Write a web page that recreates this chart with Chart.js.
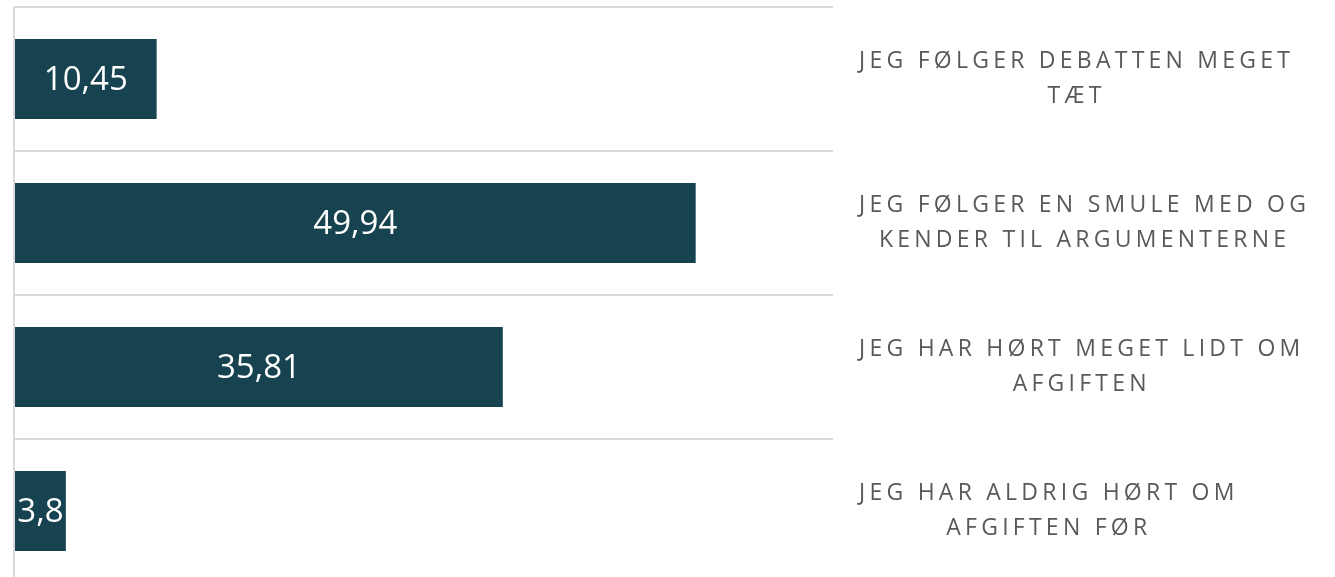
<!DOCTYPE html>
<html>
<head>
<meta charset="utf-8">
<script src="https://cdn.jsdelivr.net/npm/chart.js@4/dist/chart.umd.min.js"></script>
<style>
  html, body { margin: 0; padding: 0; background: #fff; overflow: hidden; }
  #wrap { width: 1335px; height: 583px; position: relative; }
</style>
</head>
<body>
<div id="wrap"><canvas id="awarenessBar"></canvas></div>
<script>
const categories = [
  ['JEG FØLGER DEBATTEN MEGET', 'TÆT'],
  ['JEG FØLGER EN SMULE MED OG', 'KENDER TIL ARGUMENTERNE'],
  ['JEG HAR HØRT MEGET LIDT OM', 'AFGIFTEN'],
  ['JEG HAR ALDRIG HØRT OM', 'AFGIFTEN FØR']
];
const shares = [10.45, 49.94, 35.81, 3.8];
const axisMax = 60;

function formatShare(value) {
  return String(value).replace('.', ',');
}

// category labels: block starts after a fixed gap, lines centred inside the block
const categoryLabels = {
  id: 'categoryLabels',
  afterDraw(chart) {
    const ctx = chart.ctx;
    const yScale = chart.scales.y;
    const lineHeight = 34.3;
    ctx.save();
    ctx.letterSpacing = '4.25px';
    ctx.fillStyle = '#595959';
    ctx.font = '23px "Open Sans"';
    ctx.textAlign = 'center';
    ctx.textBaseline = 'middle';
    yScale.ticks.forEach((tick, i) => {
      const lines = chart.data.labels[i];
      const blockWidth = Math.max(...lines.map(l => ctx.measureText(l).width));
      const cx = yScale.left + 26 + blockWidth / 2;
      const y0 = yScale.getPixelForTick(i) - (lines.length - 1) * lineHeight / 2;
      lines.forEach((line, j) => ctx.fillText(line, cx, y0 + j * lineHeight));
    });
    ctx.restore();
  }
};

const valueLabels = {
  id: 'valueLabels',
  afterDatasetsDraw(chart) {
    const ctx = chart.ctx;
    const meta = chart.getDatasetMeta(0);
    ctx.save();
    ctx.fillStyle = '#ffffff';
    ctx.font = '33px "Open Sans"';
    ctx.textAlign = 'center';
    ctx.textBaseline = 'middle';
    meta.data.forEach((bar, i) => {
      const x = (bar.base + bar.x) / 2;
      ctx.fillText(formatShare(shares[i]), x, bar.y + 2);
    });
    ctx.restore();
  }
};

const data = {
  labels: categories,
  datasets: [{
    data: shares,
    backgroundColor: '#16434f',
    borderWidth: 0,
    categoryPercentage: 1,
    barPercentage: 0.556
  }]
};

const config = {
  type: 'bar',
  data: data,
  options: {
    indexAxis: 'y',
    responsive: true,
    maintainAspectRatio: false,
    animation: false,
    layout: { padding: { top: 7, left: 14, right: 0, bottom: 0 } },
    plugins: {
      legend: { display: false },
      tooltip: { enabled: false }
    },
    scales: {
      x: {
        min: 0,
        max: axisMax,
        ticks: { display: false, stepSize: 10 },
        border: { display: false },
        grid: {
          drawTicks: false,
          lineWidth: 2,
          color: (c) => c.tick && c.tick.value === 0 ? '#d9d9d9' : 'rgba(0,0,0,0)'
        },
        afterFit(scale) { scale.height = 0; }
      },
      y: {
        position: 'right',
        border: { display: false },
        grid: { drawTicks: false, lineWidth: 2, color: '#d9d9d9' },
        ticks: { display: false },
        afterFit(scale) {
          scale.width = 502;
          scale.paddingTop = 0;
          scale.paddingBottom = 0;
        }
      }
    }
  },
  plugins: [valueLabels, categoryLabels]
};

new Chart(document.getElementById('awarenessBar'), config);
</script>
</body>
</html>
